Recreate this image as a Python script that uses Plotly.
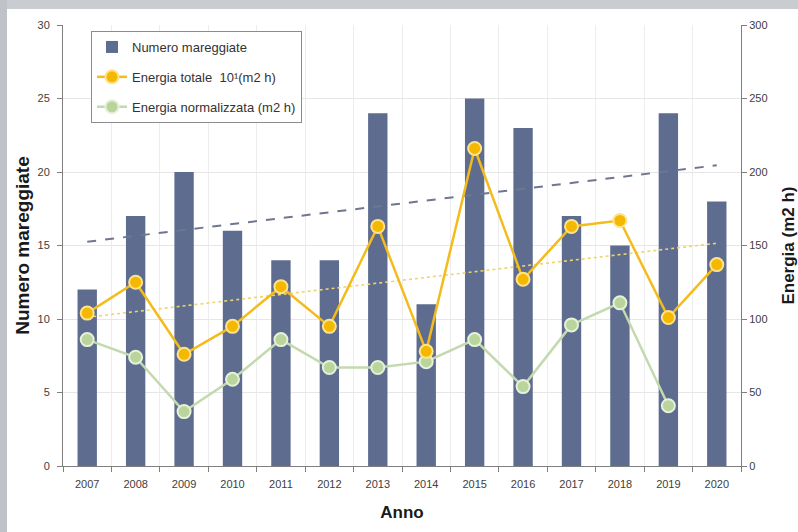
import numpy as np
import plotly.graph_objects as go

anni = ["2007", "2008", "2009", "2010", "2011", "2012", "2013", "2014",
        "2015", "2016", "2017", "2018", "2019", "2020"]
numero_mareggiate = [12, 17, 20, 16, 14, 14, 24, 11, 25, 23, 17, 15, 24, 18]
energia_totale = [104, 125, 76, 95, 122, 95, 163, 78, 216, 127, 163, 167, 101, 137]
energia_normalizzata = [86, 74, 37, 59, 86, 67, 67, 71, 86, 54, 96, 111, 41, None]

W, H = 798, 532
ML, MR, MT, MB = 63, 57, 25, 66
PW, PH = W - ML - MR, H - MT - MB

idx = np.arange(len(anni))
pb = np.polyfit(idx, numero_mareggiate, 1)
trend_bar = np.polyval(pb, idx)
pe = np.polyfit(idx, energia_totale, 1)
trend_en = np.polyval(pe, idx)

FONT = "Liberation Sans, Arial, sans-serif"

fig = go.Figure()
fig.add_trace(go.Bar(
    x=anni, y=numero_mareggiate, name="Numero mareggiate",
    marker=dict(color="#5D6C8F", line=dict(width=0)), width=0.4,
    legendgroup="a", legendrank=1, yaxis="y"))
fig.add_trace(go.Scatter(
    x=anni, y=trend_bar, mode="lines", showlegend=False, hoverinfo="skip",
    line=dict(color="#6F7790", width=2, dash="dash"), yaxis="y"))
fig.add_trace(go.Scatter(
    x=anni, y=trend_en, mode="lines", showlegend=False, hoverinfo="skip",
    line=dict(color="#F0D36A", width=1.6, dash="dot"), yaxis="y2"))
fig.add_trace(go.Scatter(
    x=anni, y=energia_normalizzata, name="Energia normalizzata (m2 h)",
    mode="lines+markers", legendgroup="c", legendrank=3,
    line=dict(color="#C3D9AE", width=2.5),
    marker=dict(size=13, color="#B9D59C", line=dict(color="#E6F0DA", width=2)),
    yaxis="y2"))
fig.add_trace(go.Scatter(
    x=anni, y=energia_totale, name="Energia totale  10\u00b9(m2 h)",
    mode="lines+markers", legendgroup="b", legendrank=2,
    line=dict(color="#F3BC1C", width=2.5),
    marker=dict(size=13, color="#F5B800", line=dict(color="#FFE28C", width=2)),
    yaxis="y2"))

def px_to_paper_x(px):
    return (px - ML) / PW

def px_to_paper_y(py):
    return 1 - (py - MT) / PH

# decorative shadow edges of the original screenshot
shapes = [
    dict(type="rect", xref="paper", yref="paper", layer="below",
         x0=px_to_paper_x(0), x1=px_to_paper_x(W), y0=px_to_paper_y(9), y1=px_to_paper_y(0),
         fillcolor="#C9CDD2", line=dict(width=0)),
    dict(type="rect", xref="paper", yref="paper", layer="below",
         x0=px_to_paper_x(0), x1=px_to_paper_x(7), y0=px_to_paper_y(H), y1=px_to_paper_y(0),
         fillcolor="#BFC2C6", line=dict(width=0)),
]

fig.update_layout(
    width=W, height=H,
    margin=dict(l=ML, r=MR, t=MT, b=MB, pad=0),
    paper_bgcolor="white", plot_bgcolor="white",
    font=dict(family=FONT, size=11, color="#404040"),
    shapes=shapes,
    legend=dict(
        x=px_to_paper_x(91), y=px_to_paper_y(31), xanchor="left", yanchor="top",
        bgcolor="white", bordercolor="#8C8C8C", borderwidth=1,
        font=dict(family=FONT, size=13, color="#333333"),
        traceorder="grouped", tracegroupgap=10, itemwidth=30),
    xaxis=dict(
        type="category", range=[-0.5, len(anni) - 0.5],
        tickson="boundaries", ticks="outside", ticklen=5,
        tickcolor="#7F7F7F", showline=True, linecolor="#7F7F7F", linewidth=1,
        showgrid=True, gridcolor="#EDEDED", gridwidth=1,
        tickfont=dict(size=11, color="#404040"), ticklabelstandoff=8,
        title=dict(text="<b>Anno</b>", font=dict(size=17, color="#1A1A1A"), standoff=16),
        automargin=False),
    yaxis=dict(
        range=[0, 30], dtick=5, ticks="outside", ticklen=5, tickcolor="#7F7F7F",
        showline=True, linecolor="#7F7F7F", linewidth=1, ticklabelstandoff=5,
        showgrid=True, gridcolor="#E6E6E6", gridwidth=1, zeroline=False,
        tickfont=dict(size=11, color="#404040"),
        title=dict(text="<b>Numero mareggiate</b>", font=dict(size=19, color="#1A1A1A"),
                   standoff=2),
        automargin=False),
    yaxis2=dict(
        range=[0, 300], dtick=50, overlaying="y", side="right",
        ticks="outside", ticklen=5, tickcolor="#7F7F7F",
        showline=True, linecolor="#7F7F7F", linewidth=1, showgrid=False,
        zeroline=False, tickfont=dict(size=11, color="#404040"),
        title=dict(text="<b>Energia (m2 h)</b>", font=dict(size=17, color="#1A1A1A"),
                   standoff=19),
        automargin=False),
)

fig.write_html("out.html")
